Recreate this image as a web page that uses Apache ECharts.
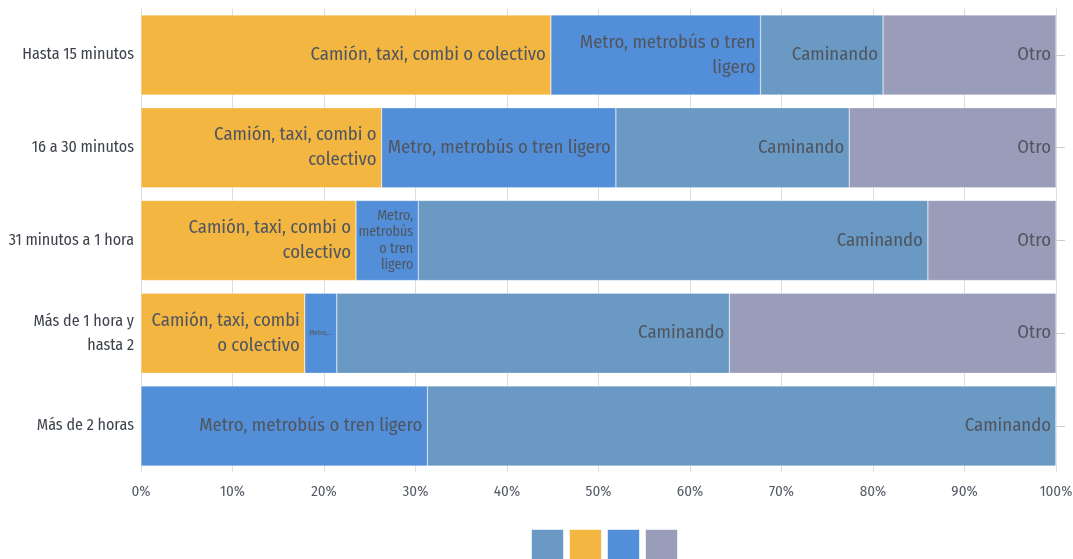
<!DOCTYPE html>
<html>
<head>
<meta charset="utf-8">
<script src="https://cdn.jsdelivr.net/npm/echarts@6/dist/echarts.min.js"></script>
<style>
  html, body { margin: 0; padding: 0; background: #fff; }
  #chart { width: 1073px; height: 559px; }
</style>
</head>
<body>
<div id="chart"></div>
<script>
const categories = [
  "Hasta 15 minutos",
  "16 a 30 minutos",
  "31 minutos a 1 hora",
  "Más de 1 hora y hasta 2",
  "Más de 2 horas",
];
const seriesNames = [
  "Camión, taxi, combi o colectivo",
  "Metro, metrobús o tren ligero",
  "Caminando",
  "Otro",
];
const camion = [44.8, 26.3, 23.5, 17.9, 0];
const metro = [22.9, 25.6, 6.8, 3.5, 31.3];
const caminando = [13.4, 25.5, 55.7, 42.9, 68.7];
const otro = [18.9, 22.6, 14.0, 35.7, 0];
const xTicks = [0, 10, 20, 30, 40, 50, 60, 70, 80, 90, 100];

const colors = ["#f3b641", "#528fd8", "#6a9ac4", "#9a9dba"];
const FONT_NAME = "Fira Sans Condensed";
const FONT = "'Fira Sans Condensed', 'Roboto Condensed', sans-serif";
const GRID_LEFT = 141;
const GRID_RIGHT = 17;

const chart = echarts.init(document.getElementById("chart"));
const plotWidth = chart.getWidth() - GRID_LEFT - GRID_RIGHT;

// own word wrapping, measured with the real font
const ctx = document.createElement("canvas").getContext("2d");
function wrapText(text, size, maxW) {
  ctx.font = size + "px '" + FONT_NAME + "'";
  const words = text.split(" ");
  const lines = [];
  let line = "";
  words.forEach((w) => {
    const test = line ? line + " " + w : w;
    if (line && ctx.measureText(test).width > maxW) {
      lines.push(line);
      line = w;
    } else {
      line = test;
    }
  });
  lines.push(line);
  return lines.join("\n");
}
function truncText(text, size, maxW) {
  ctx.font = size + "px '" + FONT_NAME + "'";
  let s = text;
  while (s.length > 1 && ctx.measureText(s + "...").width > maxW) s = s.slice(0, -1);
  return s === text ? s : s + "...";
}

// label size depends on how wide the segment is, like the original
function labelFor(value, name) {
  if (!value) return { show: false };
  const w = (value / 100) * plotWidth - 8;
  if (w < 30) {
    return { fontSize: 7, formatter: truncText(name, 7, w) };
  }
  if (w < 80) {
    return { fontSize: 14, lineHeight: 16.3, formatter: wrapText(name, 14, w) };
  }
  return { fontSize: 18.7, lineHeight: 25, formatter: wrapText(name, 18.7, w) };
}

const allData = [camion, metro, caminando, otro];

const series = allData.map((vals, i) => ({
  name: seriesNames[i],
  type: "bar",
  stack: "total",
  barCategoryGap: "13.7%",
  itemStyle: { color: colors[i], borderColor: "rgba(255,255,255,0.5)", borderWidth: 0.5 },
  label: {
    show: true,
    position: "insideRight",
    distance: 5,
    align: "right",
    color: "#50555f",
    fontFamily: FONT,
  },
  emphasis: { disabled: true },
  data: vals.map((v) => ({ value: v, label: labelFor(v, seriesNames[i]) })),
}));

const option = {
  animation: false,
  color: colors,
  grid: { left: GRID_LEFT, right: GRID_RIGHT, top: 8.6, bottom: 86.6, outerBoundsMode: "none" },
  legend: {
    data: [seriesNames[2], seriesNames[0], seriesNames[1], seriesNames[3]],
    left: 526,
    top: 524,
    itemWidth: 32,
    itemHeight: 32,
    itemGap: 5,
    icon: "rect",
    itemStyle: { borderColor: "rgba(255,255,255,0.6)", borderWidth: 1 },
    formatter: () => "",
    selectedMode: false,
  },
  xAxis: {
    type: "value",
    min: 0,
    max: 100,
    interval: 10,
    axisLine: { show: false },
    axisTick: { show: false },
    splitLine: { lineStyle: { color: "#dddddd", width: 1 } },
    axisLabel: {
      formatter: (v) => (xTicks.includes(v) ? v + "%" : ""),
      color: "#555a66",
      fontSize: 15,
      fontFamily: FONT,
      margin: 12,
    },
  },
  yAxis: [
    {
      type: "category",
      data: categories,
      inverse: true,
      axisLine: { show: false },
      axisTick: { show: false },
      axisLabel: {
        color: "#3d424c",
        fontSize: 16,
        fontFamily: FONT,
        margin: 7,
        lineHeight: 24,
        align: "right",
        formatter: (v) => wrapText(v, 16, 130),
      },
    },
    {
      type: "category",
      data: categories,
      inverse: true,
      position: "right",
      axisLine: { show: false },
      axisTick: { show: true, alignWithLabel: true, length: 9, lineStyle: { color: "#cccccc" } },
      axisLabel: { show: false },
    },
  ],
  series: series,
};

chart.setOption(option);
</script>
</body>
</html>
